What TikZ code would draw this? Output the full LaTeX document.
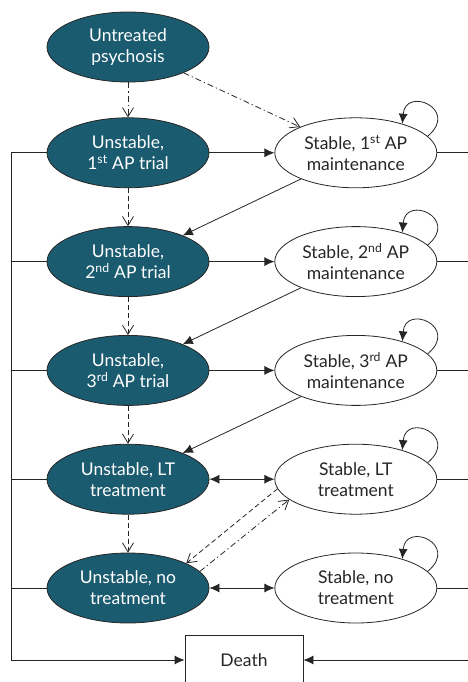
\documentclass[tikz,border=0pt]{standalone}
\usepackage{fontspec}
\setmainfont{Lato}
\usetikzlibrary{arrows.meta,positioning,shapes.geometric}
\usepackage{xcolor}
\definecolor{unstableteal}{RGB}{27,91,112}
\definecolor{linegrey}{RGB}{38,38,38}
\tikzset{
  state/.style={
    ellipse,
    draw=linegrey,
    line width=0.8pt,
    minimum width=162pt,
    minimum height=70pt,
    inner sep=0pt,
    align=center,
    font=\fontsize{17.5}{21}\selectfont
  },
  unstable/.style={state, fill=unstableteal, text=white},
  stable/.style={state, fill=white, text=linegrey},
  deathbox/.style={
    draw=linegrey,
    line width=0.8pt,
    minimum width=118pt,
    minimum height=50pt,
    font=\fontsize{17.5}{21}\selectfont,
    text=linegrey
  },
  arrow/.style={-{Latex[length=10pt,width=9pt]}, line width=0.8pt, draw=linegrey},
  twoway/.style={{Latex[length=10pt,width=9pt]}-{Latex[length=10pt,width=9pt]}, line width=0.8pt, draw=linegrey},
  link/.style={line width=0.8pt, draw=linegrey},
  progress/.style={-{Straight Barb[length=9pt,width=11pt]}, line width=0.8pt, draw=linegrey, dash pattern=on 5pt off 3pt},
  direct/.style={progress, dash pattern=on 6pt off 3pt on 1.2pt off 3pt},
}

\begin{document}
\begin{tikzpicture}[x=1pt,y=1pt,node distance=38pt and 65pt]
\useasboundingbox (0,0) rectangle (468,-682);

% Unstable states
\node[unstable] (untreated) at (128,-47) {Untreated\\psychosis};
\node[unstable, below=35pt of untreated] (unstable1) {Unstable,\\1\textsuperscript{st} AP trial};
\node[unstable, below=of unstable1] (unstable2) {Unstable,\\2\textsuperscript{nd} AP trial};
\node[unstable, below=of unstable2] (unstable3) {Unstable,\\3\textsuperscript{rd} AP trial};
\node[unstable, below=of unstable3] (unstablelt) {Unstable, LT\\treatment};
\node[unstable, below=of unstablelt] (unstableno) {Unstable, no\\treatment};

% Stable states
\node[stable, right=of unstable1] (stable1) {Stable, 1\textsuperscript{st} AP\\maintenance};
\node[stable, right=of unstable2] (stable2) {Stable, 2\textsuperscript{nd} AP\\maintenance};
\node[stable, right=of unstable3] (stable3) {Stable, 3\textsuperscript{rd} AP\\maintenance};
\node[stable, right=of unstablelt] (stablelt) {Stable, LT\\treatment};
\node[stable, right=of unstableno] (stableno) {Stable, no\\treatment};

% Death
\node[deathbox] (death) at (244,-660) {Death};
\coordinate (leftbus) at (11,-660);
\coordinate (rightbus) at (472,-660);

% From untreated
\draw[direct] (untreated) -- (unstable1);
\draw[direct] (untreated) -- (stable1);

% Treatment switches
\draw[progress] (unstable1) -- (unstable2);
\draw[progress] (unstable2) -- (unstable3);
\draw[progress] (unstable3) -- (unstablelt);
\draw[progress] (unstablelt) -- (unstableno);

% Stabilisation and relapse
\draw[arrow] (unstable1) -- (stable1);
\draw[arrow] (unstable2) -- (stable2);
\draw[arrow] (unstable3) -- (stable3);
\draw[twoway] (unstablelt) -- (stablelt);
\draw[twoway] (unstableno) -- (stableno);
\draw[arrow] (stable1) -- (unstable2);
\draw[arrow] (stable2) -- (unstable3);
\draw[arrow] (stable3) -- (unstablelt);
\draw[progress] (stablelt.187) -- (unstableno.23);
\draw[direct] (unstableno.13) -- (stablelt.197);

% Staying stable
\draw[arrow] (stable1.13) .. controls +(40:42pt) and +(85:38pt) .. (stable1.32);
\draw[arrow] (stable2.13) .. controls +(40:42pt) and +(85:38pt) .. (stable2.32);
\draw[arrow] (stable3.13) .. controls +(40:42pt) and +(85:38pt) .. (stable3.32);
\draw[arrow] (stablelt.13) .. controls +(40:42pt) and +(85:38pt) .. (stablelt.32);
\draw[arrow] (stableno.13) .. controls +(40:42pt) and +(85:38pt) .. (stableno.32);

% Mortality
\draw[arrow] (unstable1.west) -| (leftbus) -- (death.west);
\draw[link] (unstable2.west) -- (unstable2.west -| leftbus);
\draw[link] (unstable3.west) -- (unstable3.west -| leftbus);
\draw[link] (unstablelt.west) -- (unstablelt.west -| leftbus);
\draw[link] (unstableno.west) -- (unstableno.west -| leftbus);
\draw[arrow] (stable1.east) -| (rightbus) -- (death.east);
\draw[link] (stable2.east) -- (stable2.east -| rightbus);
\draw[link] (stable3.east) -- (stable3.east -| rightbus);
\draw[link] (stablelt.east) -- (stablelt.east -| rightbus);
\draw[link] (stableno.east) -- (stableno.east -| rightbus);

\end{tikzpicture}
\end{document}
